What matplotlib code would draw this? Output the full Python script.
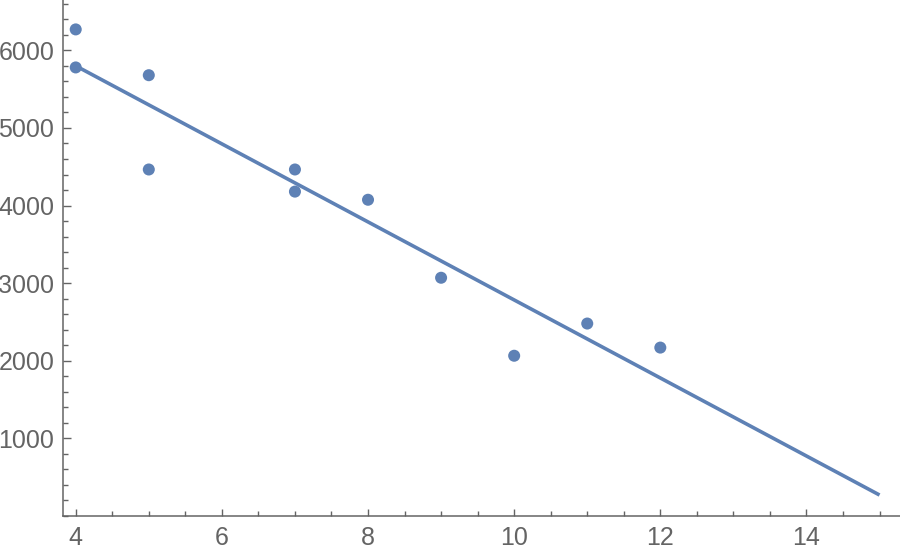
import numpy as np
import matplotlib
matplotlib.use("Agg")
from matplotlib import pyplot as plt
from matplotlib.ticker import MultipleLocator

# data
x_vals = [4, 4, 5, 5, 7, 7, 8, 9, 10, 11, 12]
y_vals = [6270, 5780, 5680, 4465, 4465, 4180, 4075, 3070, 2065, 2480, 2170]
x_ticks = [4, 6, 8, 10, 12, 14]
y_ticks = [1000, 2000, 3000, 4000, 5000, 6000]

blue = "#5E81B5"
grey = "#646464"

plt.rcParams['font.family'] = ['Liberation Sans', 'DejaVu Sans']

fig = plt.figure(figsize=(9, 5.56), dpi=100)
ax = fig.add_axes([63.3 / 900, 40 / 556, (900 - 63.3) / 900, 516 / 556])

# least squares fit line over 4..15
slope, icept = np.polyfit(x_vals, y_vals, 1)
xs = np.array([4, 15])
ax.plot(xs, slope * xs + icept, color=blue, lw=2.6, solid_capstyle="butt", clip_on=False)
ax.scatter(x_vals, y_vals, s=75, color=blue, edgecolors="none", zorder=3, clip_on=False)

ax.set_xlim(3.83, 15.28)
ax.set_ylim(0, 6649)

ax.set_xticks(x_ticks)
ax.set_yticks(y_ticks)
ax.xaxis.set_minor_locator(MultipleLocator(0.5))
ax.yaxis.set_minor_locator(MultipleLocator(200))

for s in ["top", "right"]:
    ax.spines[s].set_visible(False)
for s in ["left", "bottom"]:
    ax.spines[s].set_color(grey)
    ax.spines[s].set_linewidth(1.1)

ax.tick_params(which="both", direction="in", color=grey, width=1.0)
ax.tick_params(which="major", length=5.4, labelsize=18, labelcolor=grey)
ax.tick_params(which="minor", length=3.6)
ax.tick_params(axis="x", which="major", pad=7)
ax.tick_params(axis="y", which="major", pad=6.5)

fig.savefig("out.png", dpi=100)
